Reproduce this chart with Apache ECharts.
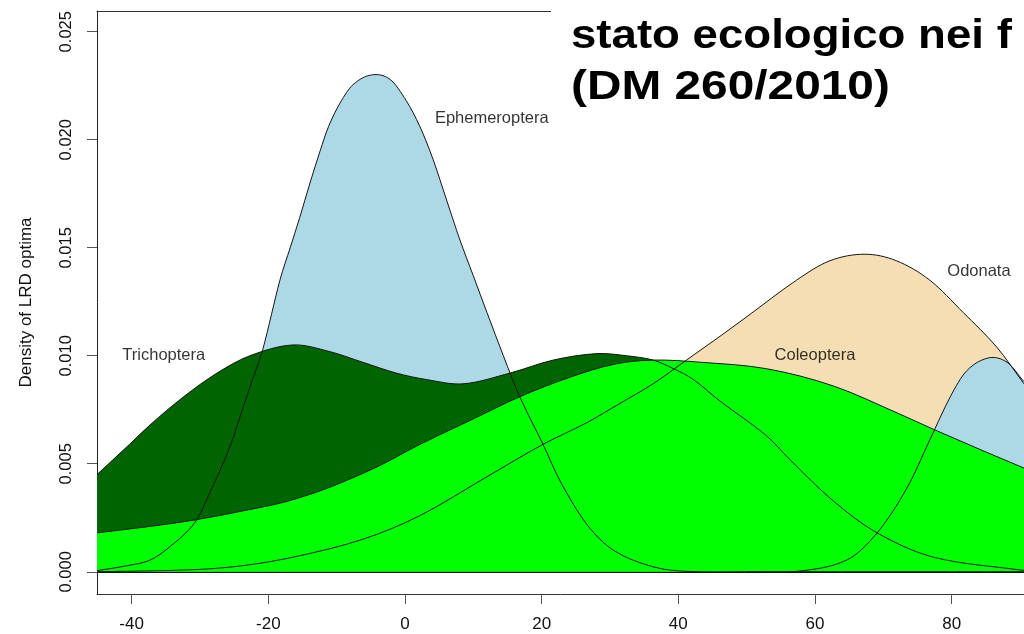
<!DOCTYPE html>
<html>
<head>
<meta charset="utf-8">
<script src="https://cdn.jsdelivr.net/npm/echarts@6/dist/echarts.min.js"></script>
<style>
  html, body { margin: 0; padding: 0; background: #ffffff; }
  #chart { width: 1024px; height: 634px; }
</style>
</head>
<body>
<div id="chart"></div>
<script>
// Axis ticks
const xTicks = [-40, -20, 0, 20, 40, 60, 80];
const yTicks = [0, 0.005, 0.010, 0.015, 0.020, 0.025];

// Kernel density of LRD optima, one curve per order
const ephX = [-45.07, -40.3, -37.3, -34.4, -30.7, -28.5, -25.6, -23.7, -22.2, -20.8, -18.3, -16.8, -15.4, -13.9, -12.4, -11.2, -9.5, -7.6, -4.9, -2.2, 0.2, 2.2, 4.1, 6.1, 8.0, 10.0, 12.0, 14.4, 16.8, 20.2, 22.7, 26.6, 30.5, 36.3, 41.2, 50, 90.59];
const ephY = [0.00005, 0.0003, 0.00054, 0.00116, 0.0023, 0.0037, 0.0058, 0.0076, 0.0090, 0.0103, 0.0135, 0.0150, 0.0164, 0.0180, 0.0195, 0.0206, 0.0217, 0.02255, 0.0230, 0.0228, 0.0218, 0.0206, 0.0191, 0.0172, 0.0154, 0.0137, 0.0120, 0.0100, 0.0081, 0.0059, 0.0042, 0.0022, 0.0010, 0.00023, 0.00002, 0, 0];

const odoX = [-45.07, -30.6, -23.3, -16.0, -6.2, 2.2, 12.0, 20.2, 26.6, 31.5, 36.3, 41.2, 46.1, 50.0, 57.3, 62.2, 67.3, 71.9, 76.8, 81.7, 86.6, 90.59];
const odoY = [0, 0.0001, 0.0003, 0.0007, 0.0015, 0.0026, 0.0044, 0.0059, 0.0069, 0.0078, 0.0087, 0.0098, 0.0109, 0.0118, 0.0135, 0.0144, 0.0147, 0.0144, 0.0135, 0.0120, 0.0104, 0.0087];

const triX = [-45.07, -40.3, -37.3, -32.4, -27.5, -22.7, -16.4, -11.1, -6.2, -1.3, 3.1, 8.5, 15.4, 21.7, 28.1, 32.4, 36.3, 39.3, 42.2, 46.1, 52.9, 56.3, 62.6, 69.1, 77.3, 90.0, 90.59];
const triY = [0.0045, 0.0059, 0.0068, 0.0081, 0.0092, 0.0100, 0.0105, 0.0102, 0.0097, 0.0092, 0.0089, 0.0087, 0.0092, 0.0098, 0.0101, 0.0100, 0.0098, 0.0094, 0.0089, 0.0079, 0.0063, 0.0052, 0.0033, 0.0018, 0.00068, 0.00008, 0.00007];

const colX = [-45.07, -37.3, -30.7, -20.8, -16.8, -11.1, -3.8, 2.2, 9.5, 16.8, 24.1, 30.5, 36.3, 43.2, 52.9, 62.7, 72.4, 77.3, 84.6, 90.59];
const colY = [0.0018, 0.0021, 0.0024, 0.0030, 0.0033, 0.0039, 0.0049, 0.0059, 0.0070, 0.0081, 0.0090, 0.0096, 0.0098, 0.0097, 0.0094, 0.0086, 0.0073, 0.0066, 0.0056, 0.0048];

const blue2X = [50, 57.4, 64.7, 69.1, 73.5, 76.8, 79.8, 82.2, 85.4, 88.1, 90.59];
const blue2Y = [0, 0.00002, 0.00055, 0.0018, 0.0039, 0.0061, 0.0081, 0.0093, 0.0099, 0.0097, 0.0088];

// Curve labels placed in data coordinates
const labelNames = ['Ephemeroptera', 'Trichoptera', 'Odonata', 'Coleoptera'];
const labelX = [12.7, -35.3, 84.0, 60.0];
const labelY = [0.0210, 0.0100, 0.0139, 0.0100];

const titleLines = ['stato ecologico nei f', '(DM 260/2010)'];

const FONT = "'Liberation Sans', Arial, sans-serif";
const X_MIN = -45.07, X_MAX = 90.59;
const zip = (xs, ys) => xs.map((x, i) => [x, ys[i]]);

// Smooth cubic path through pixel points (finite-difference tangents)
function curvePath(pts) {
  const n = pts.length;
  const m = pts.map((p, i) => {
    const a = pts[Math.max(0, i - 1)], b = pts[Math.min(n - 1, i + 1)];
    return (b[1] - a[1]) / (b[0] - a[0]);
  });
  let d = '';
  for (let i = 0; i < n - 1; i++) {
    const p = pts[i], q = pts[i + 1], h = (q[0] - p[0]) / 3;
    d += ` C ${p[0] + h} ${p[1] + m[i] * h} ${q[0] - h} ${q[1] - m[i + 1] * h} ${q[0]} ${q[1]}`;
  }
  return d;
}

// Fills first (in drawing order), outlines afterwards
const curves = [
  { x: odoX, y: odoY, fill: '#F5DEB3' },
  { x: ephX, y: ephY, fill: '#ADD8E6' },
  { x: blue2X, y: blue2Y, fill: '#ADD8E6' },
  { x: triX, y: triY, fill: '#006400' },
  { x: colX, y: colY, fill: '#00FF00' }
];

function curveSeries(c, filled, z) {
  return {
    type: 'custom', data: zip(c.x, c.y), z: z, silent: true,
    encode: { x: 0, y: 1 },
    renderItem: (params, api) => {
      if (params.dataIndex !== 0) return null;
      const pts = c.x.map((x, i) => api.coord([x, c.y[i]]));
      const body = curvePath(pts);
      if (filled) {
        const b0 = api.coord([c.x[0], 0]), b1 = api.coord([c.x[c.x.length - 1], 0]);
        return {
          type: 'path',
          shape: { pathData: `M ${b0[0]} ${b0[1]} L ${pts[0][0]} ${pts[0][1]}${body} L ${b1[0]} ${b1[1]} Z` },
          style: { fill: c.fill, stroke: null }
        };
      }
      return {
        type: 'path',
        shape: { pathData: `M ${pts[0][0]} ${pts[0][1]}${body}` },
        style: { fill: null, stroke: '#151515', lineWidth: 1 }
      };
    }
  };
}

const series = [];
curves.forEach(c => series.push(curveSeries(c, true, 2)));
curves.forEach(c => series.push(curveSeries(c, false, 3)));
// zero reference line
series.push({
  type: 'line', data: [], z: 3, silent: true,
  markLine: {
    silent: true, symbol: 'none', label: { show: false },
    lineStyle: { color: '#111', width: 1.2, type: 'solid' },
    data: [{ yAxis: 0 }]
  }
});
series.push({
  type: 'scatter', symbolSize: 0, z: 4, silent: true,
  data: labelX.map((x, i) => ({ value: [x, labelY[i]], name: labelNames[i] })),
  label: {
    show: true, position: 'inside', formatter: p => p.name,
    color: '#000', fontFamily: FONT, fontSize: 16.5
  }
});

const chart = echarts.init(document.getElementById('chart'), null, { renderer: 'canvas' });
chart.setOption({
  animation: false,
  backgroundColor: '#ffffff',
  grid: { left: 97, top: 11, right: 0, bottom: 40 },
  xAxis: [
    {
      type: 'value', min: X_MIN, max: X_MAX,
      axisLine: { show: true, onZero: false, lineStyle: { color: '#333' } },
      axisTick: { show: true, customValues: xTicks, length: 10, lineStyle: { color: '#555' } },
      axisLabel: { customValues: xTicks, fontFamily: FONT, fontSize: 17, color: '#111', margin: 22 },
      splitLine: { show: false }
    },
    {
      // top edge of the plot frame
      type: 'value', position: 'top', min: X_MIN, max: X_MAX,
      axisLine: { show: true, onZero: false, lineStyle: { color: '#333' } },
      axisTick: { show: false }, axisLabel: { show: false }, splitLine: { show: false }
    }
  ],
  yAxis: {
    type: 'value', min: -0.00103, max: 0.02596,
    name: 'Density of LRD optima', nameLocation: 'middle', nameGap: 62,
    nameTextStyle: { fontFamily: FONT, fontSize: 17, color: '#111' },
    axisLine: { show: true, onZero: false, lineStyle: { color: '#222' } },
    axisTick: { show: true, customValues: yTicks, length: 10, lineStyle: { color: '#555' } },
    axisLabel: {
      customValues: yTicks, rotate: 90, fontFamily: FONT, fontSize: 16.5, color: '#111', margin: 22,
      formatter: v => v.toFixed(3)
    },
    splitLine: { show: false }
  },
  graphic: [
    { type: 'rect', left: 551, top: 0, shape: { width: 480, height: 128 }, style: { fill: '#ffffff' }, z: 100 },
    { type: 'text', x: 571, y: 37, scaleX: 1.14, z: 101,
      style: { text: titleLines[0], fill: '#000', font: "bold 40px 'Liberation Sans', Arial, sans-serif", verticalAlign: 'middle', align: 'left' } },
    { type: 'text', x: 571, y: 88, scaleX: 1.195, z: 101,
      style: { text: titleLines[1], fill: '#000', font: "bold 40px 'Liberation Sans', Arial, sans-serif", verticalAlign: 'middle', align: 'left' } }
  ],
  series: series
});
</script>
</body>
</html>
